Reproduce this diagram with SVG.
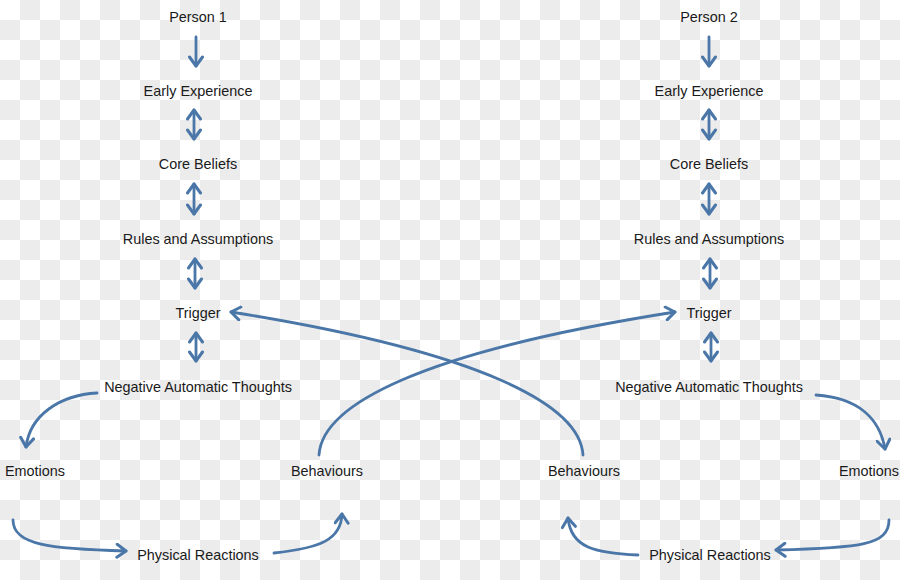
<svg xmlns="http://www.w3.org/2000/svg" width="900" height="580" viewBox="0 0 900 580">
  <defs>
    <pattern id="checker" x="0" y="0" width="40" height="40" patternUnits="userSpaceOnUse">
      <rect width="40" height="40" fill="#ffffff"/>
      <rect x="20" y="0" width="20" height="20" fill="#ececec"/>
      <rect x="0" y="20" width="20" height="20" fill="#ececec"/>
    </pattern>
    <marker id="chev" viewBox="-12 -8 14 16" refX="0" refY="0" markerWidth="14" markerHeight="16" markerUnits="userSpaceOnUse" orient="auto-start-reverse">
      <path d="M-9,-6.5 L0,0 L-9,6.5" fill="none" stroke="#4a77a8" stroke-width="3" stroke-linecap="round" stroke-linejoin="round"/>
    </marker>
    <style>
      .lbl { font-family: "Liberation Sans", Arial, sans-serif; font-size: 14.4px; fill: #1a1a1a; text-anchor: middle; }
      .con { fill: none; stroke: #4a77a8; stroke-width: 2.8; stroke-linecap: round; }
      .one { marker-end: url(#chev); }
      .two { marker-start: url(#chev); marker-end: url(#chev); }
    </style>
  </defs>
  <rect width="900" height="580" fill="url(#checker)"/>

  <g id="connectors">
    <!-- left column -->
    <path class="con one" d="M196,37 L196,66"/>
    <path class="con two" d="M194,110 L194,139"/>
    <path class="con two" d="M194,184 L194,214"/>
    <path class="con two" d="M195,259 L195,288"/>
    <path class="con two" d="M196,333 L196,361"/>
    <!-- right column -->
    <path class="con one" d="M709,37 L709,66"/>
    <path class="con two" d="M709,110 L709,139"/>
    <path class="con two" d="M709,184 L709,214"/>
    <path class="con two" d="M710,259 L710,288"/>
    <path class="con two" d="M711,333 L711,361"/>
    <!-- cross arrows -->
    <path class="con one" d="M319,455 C322,405 420,352 675,312"/>
    <path class="con one" d="M583,455 C580,405 482,352 231,312"/>
    <!-- left cycle -->
    <path class="con one" d="M97,393 C60,395 30,415 26,447"/>
    <path class="con one" d="M13,520 C13,545 50,549 126,551"/>
    <path class="con one" d="M274,553 C320,548 341,540 342,514"/>
    <!-- right cycle -->
    <path class="con one" d="M816,395 C860,398 880,420 885,449"/>
    <path class="con one" d="M889,520 C889,545 860,548 776,550"/>
    <path class="con one" d="M638,555 C595,553 571,548 568,518"/>
  </g>

  <g id="person1"><text class="lbl" x="198" y="22">Person 1</text></g>
  <g id="early1"><text class="lbl" x="198" y="96">Early Experience</text></g>
  <g id="core1"><text class="lbl" x="198" y="169">Core Beliefs</text></g>
  <g id="rules1"><text class="lbl" x="198" y="244">Rules and Assumptions</text></g>
  <g id="trigger1"><text class="lbl" x="198" y="318">Trigger</text></g>
  <g id="nat1"><text class="lbl" x="198" y="392">Negative Automatic Thoughts</text></g>
  <g id="emotions1"><text class="lbl" x="35" y="476">Emotions</text></g>
  <g id="behaviours1"><text class="lbl" x="327" y="476">Behaviours</text></g>
  <g id="physical1"><text class="lbl" x="198" y="560">Physical Reactions</text></g>

  <g id="person2"><text class="lbl" x="709" y="22">Person 2</text></g>
  <g id="early2"><text class="lbl" x="709" y="96">Early Experience</text></g>
  <g id="core2"><text class="lbl" x="709" y="169">Core Beliefs</text></g>
  <g id="rules2"><text class="lbl" x="709" y="244">Rules and Assumptions</text></g>
  <g id="trigger2"><text class="lbl" x="709" y="318">Trigger</text></g>
  <g id="nat2"><text class="lbl" x="709" y="392">Negative Automatic Thoughts</text></g>
  <g id="emotions2"><text class="lbl" x="869" y="476">Emotions</text></g>
  <g id="behaviours2"><text class="lbl" x="584" y="476">Behaviours</text></g>
  <g id="physical2"><text class="lbl" x="710" y="560">Physical Reactions</text></g>
</svg>
